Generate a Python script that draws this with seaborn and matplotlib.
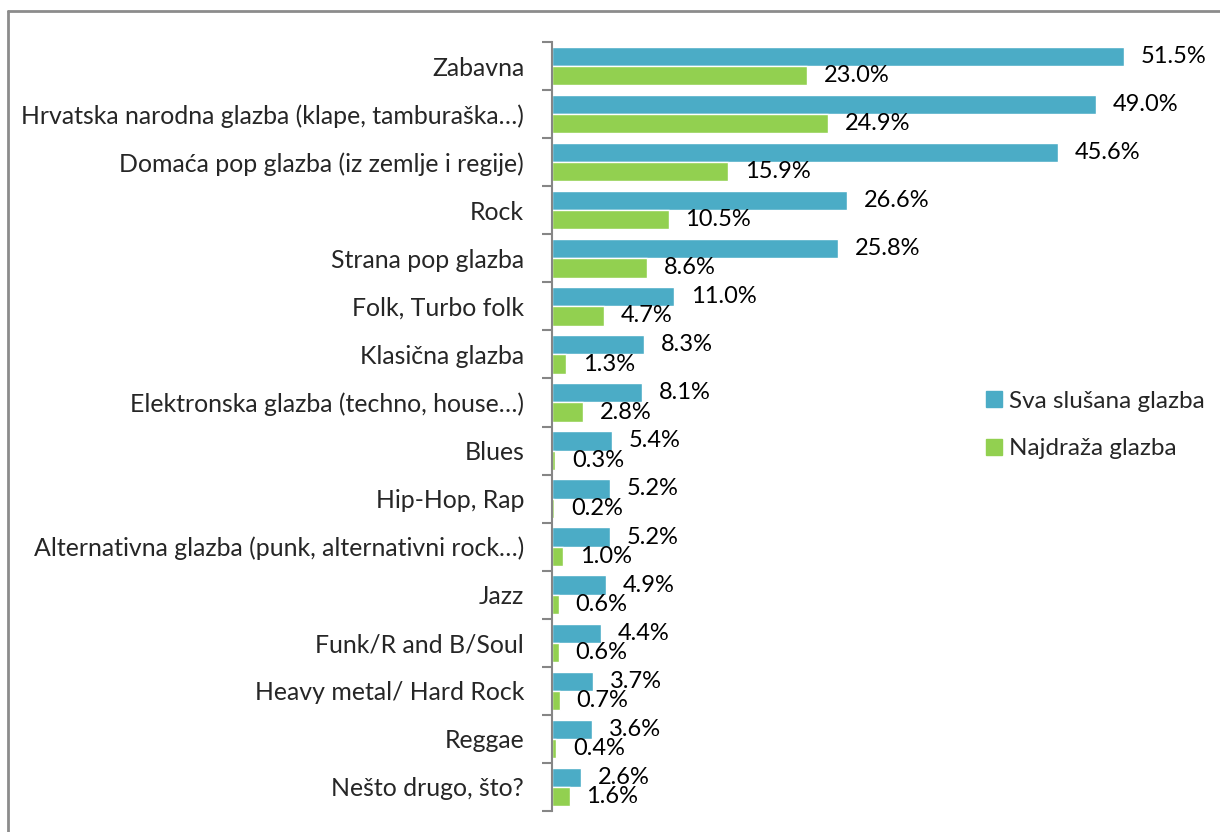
import pandas as pd
import numpy as np
import matplotlib.pyplot as plt
import seaborn as sns
from matplotlib.lines import Line2D

sns.set_style('white')
plt.rcParams['font.family'] = ['Lato', 'DejaVu Sans']

categories = ['Zabavna', 'Hrvatska narodna glazba (klape, tamburaška…)',
              'Domaća pop glazba (iz zemlje i regije)', 'Rock', 'Strana pop glazba',
              'Folk, Turbo folk', 'Klasična glazba', 'Elektronska glazba (techno, house…)',
              'Blues', 'Hip-Hop, Rap', 'Alternativna glazba (punk, alternativni rock…)',
              'Jazz', 'Funk/R and B/Soul', 'Heavy metal/ Hard Rock', 'Reggae',
              'Nešto drugo, što?']
sva = [51.5, 49.0, 45.6, 26.6, 25.8, 11.0, 8.3, 8.1, 5.4, 5.2, 5.2, 4.9, 4.4, 3.7, 3.6, 2.6]
najdraza = [23.0, 24.9, 15.9, 10.5, 8.6, 4.7, 1.3, 2.8, 0.3, 0.2, 1.0, 0.6, 0.6, 0.7, 0.4, 1.6]
series = ['Sva slušana glazba', 'Najdraža glazba']
colors = ['#4BACC6', '#92D050']

df = pd.DataFrame({'Kategorija': categories * 2,
                   'Vrijednost': sva + najdraza,
                   'Serija': [series[0]] * len(categories) + [series[1]] * len(categories)})

fig = plt.figure(figsize=(12.2, 8.32), dpi=100)
ax = fig.add_axes([552 / 1220, 1 - 811 / 832, 660 / 1220, 769 / 832])
sns.barplot(data=df, y='Kategorija', x='Vrijednost', hue='Serija', palette=colors,
            orient='h', width=0.8, ax=ax, legend=False, saturation=1)
ax.set_xlim(0, 660 / 11.1)
ax.set_ylim(len(categories) - 0.5, -0.5)

for cont in ax.containers:
    ax.bar_label(cont, labels=[f'{v:.1f}%' for v in cont.datavalues], padding=12,
                 fontsize=17, color='#000000')

sns.despine(ax=ax, top=True, right=True, bottom=True)
ax.spines['left'].set_color('#868686')
ax.spines['left'].set_linewidth(1.5)
ax.set_xticks([])
ax.set_xlabel('')
ax.set_ylabel('')
ax.tick_params(axis='y', which='major', length=0, pad=20, labelsize=17.9)
ax.set_yticks(np.arange(-0.5, len(categories), 1), minor=True)
ax.tick_params(axis='y', which='minor', left=True, length=7, width=1.5, color='#868686')

handles = [Line2D([], [], marker='s', ls='', color=c, markersize=11) for c in colors]
fig.legend(handles, series, loc='center left', bbox_to_anchor=(962 / 1220, 1 - 425 / 832),
           frameon=False, fontsize=17.5, handletextpad=0.25, labelspacing=1.1,
           handlelength=0.8)

fig.add_artist(Line2D([8 / 1220, 8 / 1220], [0, 1 - 11 / 832], transform=fig.transFigure,
                      color='#8c8c8c', lw=2))
fig.add_artist(Line2D([8 / 1220, 1], [1 - 11 / 832, 1 - 11 / 832], transform=fig.transFigure,
                      color='#8c8c8c', lw=2))

fig.savefig('out.png', dpi=100)
